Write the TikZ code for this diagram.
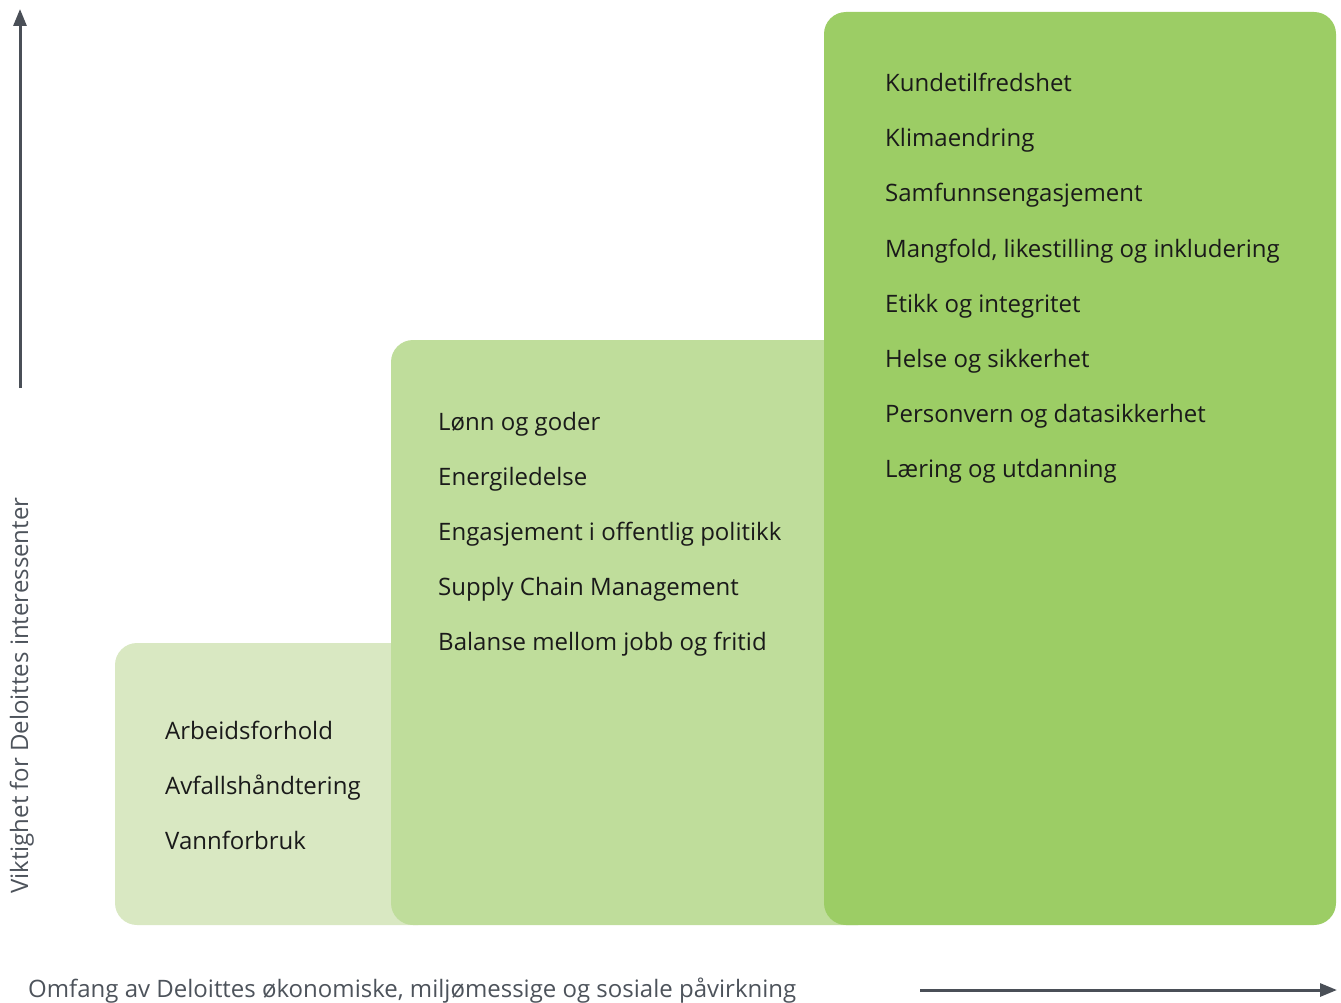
\documentclass[tikz,border=0pt]{standalone}
\usepackage{fontspec}
\setmainfont{Open Sans}
\usepackage{tikz}
\usetikzlibrary{arrows.meta,positioning}

\definecolor{lowgreen}{HTML}{D9E8C2}
\definecolor{midgreen}{HTML}{BFDD9B}
\definecolor{highgreen}{HTML}{9CCD65}
\definecolor{axisgray}{HTML}{4A4F57}
\definecolor{labelgray}{HTML}{4D535B}
\definecolor{itemblack}{HTML}{1A1A1A}

\begin{document}
\begin{tikzpicture}[x=1pt,y=-1pt,node distance=55pt,
    item/.style={inner sep=0pt,anchor=base west,text=itemblack,font=\fontsize{24}{28}\selectfont},
    axislabel/.style={inner sep=0pt,anchor=base west,text=labelgray,font=\fontsize{24}{28}\selectfont},
    axis/.style={line width=3pt,draw=axisgray,-{Triangle[length=17pt,width=13pt]}},
    level/.style={rounded corners=22pt}]

      \useasboundingbox (0,0) rectangle (1341,1003);

      % three steps, back to front
      \fill[level,lowgreen]  (115,643) rectangle (440,925);
      \fill[level,midgreen]  (391,340) rectangle (880,925);
      \fill[level,highgreen] (824,12)  rectangle (1336,925);

      % low step
      \node[item] (a1) at (165,739) {Arbeidsforhold};
      \node[item,below=of a1.base west,anchor=base west] (a2) {Avfallshåndtering};
      \node[item,below=of a2.base west,anchor=base west] (a3) {Vannforbruk};

      % middle step
      \node[item] (b1) at (438,430) {Lønn og goder};
      \node[item,below=of b1.base west,anchor=base west] (b2) {Energiledelse};
      \node[item,below=of b2.base west,anchor=base west] (b3) {Engasjement i offentlig politikk};
      \node[item,below=of b3.base west,anchor=base west] (b4) {Supply Chain Management};
      \node[item,below=of b4.base west,anchor=base west] (b5) {Balanse mellom jobb og fritid};

      % high step
      \node[item] (c1) at (885,92) {Kundetilfredshet};
      \node[item,below=of c1.base west,anchor=base west] (c2) {Klimaendring};
      \node[item,below=of c2.base west,anchor=base west] (c3) {Samfunnsengasjement};
      \node[item,below=of c3.base west,anchor=base west] (c4) {Mangfold, likestilling og inkludering};
      \node[item,below=of c4.base west,anchor=base west] (c5) {Etikk og integritet};
      \node[item,below=of c5.base west,anchor=base west] (c6) {Helse og sikkerhet};
      \node[item,below=of c6.base west,anchor=base west] (c7) {Personvern og datasikkerhet};
      \node[item,below=of c7.base west,anchor=base west] (c8) {Læring og utdanning};

      % axes
      \coordinate (ylo) at (20,388);
      \coordinate (yhi) at (20,9);
      \coordinate (xlo) at (920,990);
      \coordinate (xhi) at (1337,990);
      \draw[axis] (ylo) -- (yhi);
      \draw[axis] (xlo) -- (xhi);

      \node[axislabel,rotate=90] (ylab) at (28,894) {Viktighet for Deloittes interessenter};
      \node[axislabel] (xlab) at (28,997) {Omfang av Deloittes økonomiske, miljømessige og sosiale påvirkning};
    \end{tikzpicture}
\end{document}
